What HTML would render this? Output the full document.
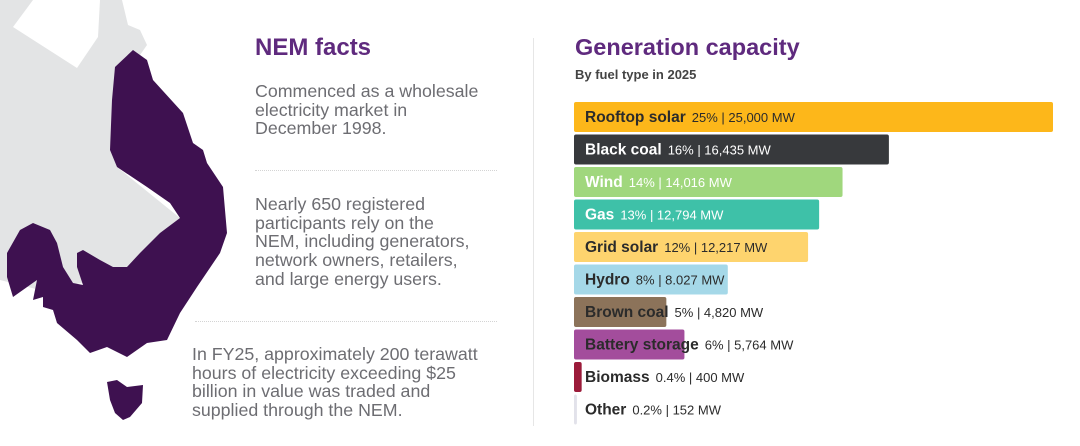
<!DOCTYPE html>
<html><head><meta charset="utf-8">
<style>
body{margin:0;width:1080px;height:446px;background:#fff;overflow:hidden;position:relative;font-family:"Liberation Sans",sans-serif}
.t{position:absolute;white-space:nowrap}
.h{font-weight:bold;color:#5f2a7e;font-size:24px}
.p{color:#6d6d72;font-size:17.8px;line-height:18.7px}
.dot{position:absolute;border-top:1.5px dotted #d4d4d4;height:0}
</style></head><body>
<svg width="240" height="446" style="position:absolute;left:0;top:0">
<polygon fill="#e3e4e5" points="0,0 122,0 128,25 140,30 147,45 140,55 115,70 110,150 117,167 180,218 130,275 40,290 0,280"/>
<polygon fill="#fff" points="13,27 33,0 100,0 98,37 77,68"/>
<polygon fill="#3e1150" points="133,50 147,60 153,80 183,113 193,143 203,150 207,163 223,187 227,233 220,253 197,287 180,313 167,340 147,343 127,357 107,347 90,353 77,340 57,323 53,310 43,307 43,297 33,300 37,280 13,297 7,277 7,253 20,230 33,223 50,230 57,243 63,267 73,283 83,285 77,267 77,253 83,250 100,260 113,267 127,267 140,253 160,233 180,218 170,203 147,187 117,167 110,150 112,100 115,67"/>
<polygon fill="#3e1150" points="107,382 117,380 127,387 143,385 142,403 130,417 123,420 115,413 110,400"/>
</svg>
<div class="t h" style="left:255px;top:34px">NEM facts</div>
<div class="t p" style="left:255px;top:82px">Commenced as a wholesale<br>electricity market in<br>December 1998.</div>
<div class="dot" style="left:255px;top:170px;width:242px"></div>
<div class="t p" style="left:255px;top:195px">Nearly 650 registered<br>participants rely on the<br>NEM, including generators,<br>network owners, retailers,<br>and large energy users.</div>
<div class="dot" style="left:195px;top:321px;width:302px"></div>
<div class="t p" style="left:192px;top:345px">In FY25, approximately 200 terawatt<br>hours of electricity exceeding $25<br>billion in value was traded and<br>supplied through the NEM.</div>
<div style="position:absolute;left:533px;top:38px;width:1px;height:388px;background:#e6e6e6"></div>
<div class="t h" style="left:575px;top:34px;font-size:23.5px">Generation capacity</div>
<div class="t" style="left:575px;top:67px;font-size:13px;font-weight:bold;color:#444">By fuel type in 2025</div>
<svg id="chart" width="1080" height="446" style="position:absolute;left:0;top:0"></svg>
<script>
const categories=["Rooftop solar","Black coal","Wind","Gas","Grid solar","Hydro","Brown coal","Battery storage","Biomass","Other"];
const valuesMW=[25000,16435,14016,12794,12217,8027,4820,5764,400,152];
const pctLabels=["25%","16%","14%","13%","12%","8%","5%","6%","0.4%","0.2%"];
const mwLabels=["25,000 MW","16,435 MW","14,016 MW","12,794 MW","12,217 MW","8.027 MW","4,820 MW","5,764 MW","400 MW","152 MW"];
const colors=["#fdb71a","#37393c","#a0d77d","#3ec1a8","#fed46e","#a5d8e8","#8c735a","#a34d9c","#9b1b3a","#e2e2ea"];
const textColors=["#2b2b2b","#fff","#fff","#fff","#2b2b2b","#2b2b2b","#2b2b2b","#2b2b2b","#2b2b2b","#2b2b2b"];
const NS="http://www.w3.org/2000/svg",svg=document.getElementById('chart');
const x0=574,xW=479,xMax=25000,y0=102,step=32.5,bh=30;
const xs=v=>v/xMax*xW, ys=i=>y0+i*step;
categories.forEach((c,i)=>{
 const r=document.createElementNS(NS,'rect');
 r.setAttribute('x',x0);r.setAttribute('y',ys(i));r.setAttribute('width',Math.max(xs(valuesMW[i]),2.5));r.setAttribute('height',bh);r.setAttribute('rx',2);r.setAttribute('fill',colors[i]);
 
 
 svg.appendChild(r);
 const t=document.createElementNS(NS,'text');
 t.setAttribute('x',585);t.setAttribute('y',ys(i)+bh/2+5);t.setAttribute('fill',textColors[i]);
 t.setAttribute('font-family','Liberation Sans, sans-serif');
 
 
 const a=document.createElementNS(NS,'tspan');a.setAttribute('font-weight','bold');a.setAttribute('font-size','15.5');a.textContent=c;
 const b=document.createElementNS(NS,'tspan');b.setAttribute('font-size','13');b.setAttribute('dx','6');b.textContent=pctLabels[i]+' | '+mwLabels[i];
 t.appendChild(a);t.appendChild(b);svg.appendChild(t);
});
</script>
</body></html>
